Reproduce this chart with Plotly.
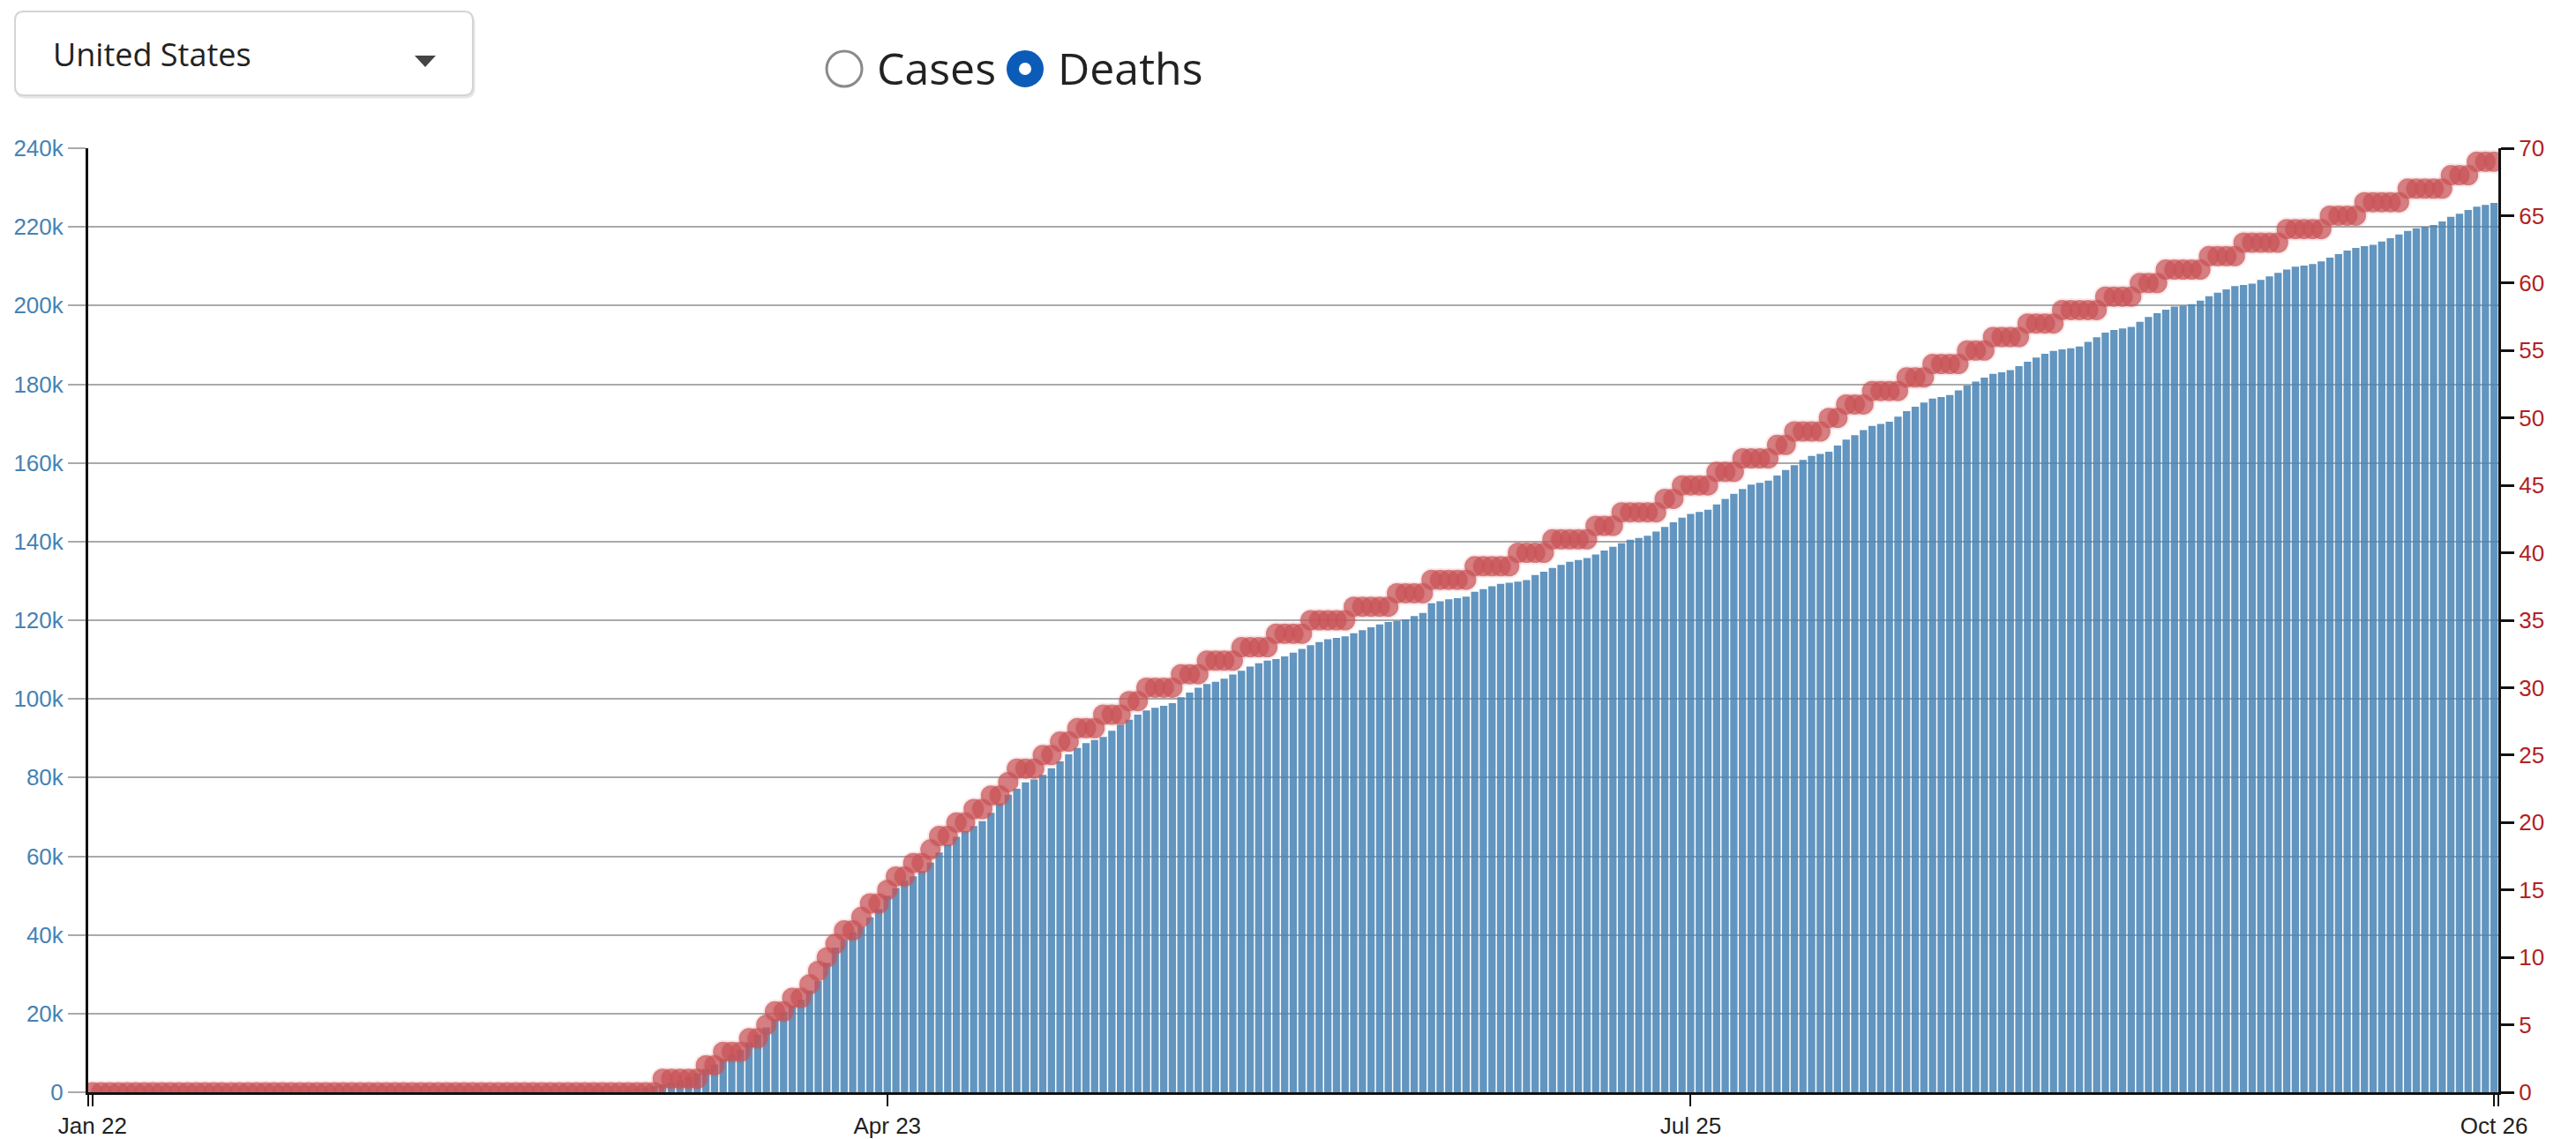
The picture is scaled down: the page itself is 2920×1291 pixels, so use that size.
import pandas as pd
import plotly.graph_objects as go

# ---------------- data ----------------
start_date = "2020-01-22"
end_date = "2020-10-26"

deaths_jan = [0, 0, 0, 0, 0, 0, 0, 0, 0, 0]
deaths_feb = [0, 0, 0, 0, 0, 0, 0, 0, 0, 0, 0, 0, 0, 0, 0, 0, 0, 0, 0, 0, 0, 0, 0, 0, 0, 0, 0, 0, 1]
deaths_mar = [1, 6, 7, 11, 12, 14, 17, 21, 22, 28, 36, 40, 47, 54, 63, 85, 108, 118, 200, 244, 307,
              427, 552, 706, 942, 1209, 1581, 2026, 2467, 2978, 3873]
deaths_apr = [4757, 5926, 7087, 8407, 9619, 10783, 12722, 14695, 16478, 18586, 20463, 22020, 23529,
              25832, 28325, 32916, 36773, 38664, 40661, 42094, 44444, 46622, 49954, 51949, 53755,
              54881, 56219, 58355, 60967, 62996]
deaths_may = [64943, 66369, 67682, 68922, 71064, 73455, 75662, 77180, 78795, 79526, 80682, 82356,
              84119, 85898, 87530, 88754, 89562, 90347, 91921, 93439, 94702, 95979, 97087, 97719,
              98223, 98916, 100418, 101617, 102836, 103781, 104383]
deaths_jun = [105147, 106195, 107175, 108211, 109042, 109751, 110119, 110826, 111754, 112734,
              113667, 114433, 115165, 115508, 115882, 116716, 117498, 118211, 118919, 119560,
              119842, 120233, 121089, 121839, 124313, 124834, 125341, 125610, 125979, 127217]
deaths_jul = [127901, 128619, 129279, 129555, 129833, 130194, 131470, 132341, 133310, 134086,
              134866, 135301, 135792, 136732, 137714, 138686, 139589, 140492, 140904, 141463,
              142536, 143726, 144879, 146078, 147048, 147513, 148085, 149431, 150859, 152112, 153363]
deaths_aug = [154458, 154926, 155487, 156812, 158198, 159442, 160739, 161772, 162302, 162850,
              164389, 165904, 167028, 168348, 169422, 169914, 170449, 171747, 173138, 174255,
              175372, 176349, 176726, 177238, 178440, 179648, 180689, 181664, 182622, 183051, 183597]
deaths_sep = [184624, 185715, 186764, 187736, 188446, 188862, 189129, 189600, 190784, 191949,
              193116, 193802, 194192, 194587, 195887, 197116, 198051, 198981, 199724, 199970,
              200346, 201248, 202358, 203249, 204140, 204946, 205246, 205577, 206503, 207448]
deaths_oct = [208326, 209154, 209860, 210184, 210546, 211218, 212168, 213107, 213996, 214628,
              215087, 215453, 216304, 217136, 218051, 218961, 219654, 220031, 220462, 221380,
              222536, 223358, 224281, 225117, 225572, 226100]

per100k_jan = [0, 0, 0, 0, 0, 0, 0, 0, 0, 0]
per100k_feb = [0, 0, 0, 0, 0, 0, 0, 0, 0, 0, 0, 0, 0, 0, 0, 0, 0, 0, 0, 0, 0, 0, 0, 0, 0, 0, 0, 0, 0]
per100k_mar = [0, 0, 0, 0, 0, 0, 0, 0, 0, 0, 0, 0, 0, 0, 0, 0, 0, 0, 0, 0, 0, 0, 0, 0, 0, 0, 0,
               1, 1, 1, 1]
per100k_apr = [1, 2, 2, 3, 3, 3, 4, 4, 5, 6, 6, 7, 7, 8, 9, 10, 11, 12, 12, 13, 14, 14, 15, 16, 16,
               17, 17, 18, 19, 19]
per100k_may = [20, 20, 21, 21, 22, 22, 23, 24, 24, 24, 25, 25, 26, 26, 27, 27, 27, 28, 28, 28, 29,
               29, 30, 30, 30, 30, 31, 31, 31, 32, 32]
per100k_jun = [32, 32, 33, 33, 33, 33, 34, 34, 34, 34, 35, 35, 35, 35, 35, 36, 36, 36, 36, 36, 37,
               37, 37, 37, 38, 38, 38, 38, 38, 39]
per100k_jul = [39, 39, 39, 39, 40, 40, 40, 40, 41, 41, 41, 41, 41, 42, 42, 42, 43, 43, 43, 43, 43,
               44, 44, 45, 45, 45, 45, 46, 46, 46, 47]
per100k_aug = [47, 47, 47, 48, 48, 49, 49, 49, 49, 50, 50, 51, 51, 51, 52, 52, 52, 52, 53, 53, 53,
               54, 54, 54, 54, 55, 55, 55, 56, 56, 56]
per100k_sep = [56, 57, 57, 57, 57, 58, 58, 58, 58, 58, 59, 59, 59, 59, 60, 60, 60, 61, 61, 61, 61,
               61, 62, 62, 62, 62, 63, 63, 63, 63]
per100k_oct = [63, 64, 64, 64, 64, 64, 65, 65, 65, 65, 66, 66, 66, 66, 66, 67, 67, 67, 67, 67, 68,
               68, 68, 69, 69, 69]

x_tick_dates = ["2020-01-22", "2020-04-23", "2020-07-25", "2020-10-26"]
x_tick_labels = ["Jan 22", "Apr 23", "Jul 25", "Oct 26"]
left_tick_vals = [0, 20000, 40000, 60000, 80000, 100000, 120000, 140000, 160000, 180000,
                  200000, 220000, 240000]
left_tick_labels = ["0", "20k", "40k", "60k", "80k", "100k", "120k", "140k", "160k", "180k",
                    "200k", "220k", "240k"]
right_tick_vals = [0, 5, 10, 15, 20, 25, 30, 35, 40, 45, 50, 55, 60, 65, 70]

country_label = "United States"
radio_labels = ["Cases", "Deaths"]

# ---------------- assemble ----------------
dates = pd.date_range(start_date, end_date, freq="D")
deaths = (deaths_jan + deaths_feb + deaths_mar + deaths_apr + deaths_may + deaths_jun +
          deaths_jul + deaths_aug + deaths_sep + deaths_oct)
per100k = (per100k_jan + per100k_feb + per100k_mar + per100k_apr + per100k_may + per100k_jun +
           per100k_jul + per100k_aug + per100k_sep + per100k_oct)

W, H = 2920, 1290
L, R, T, B = 100, 88, 168, 52
PW, PH = W - L - R, H - T - B


def px(xp):
    return (xp - L) / PW


def py(yp):
    return (H - B - yp) / PH


AXIS_FONT = "Liberation Sans, Arial, Helvetica, sans-serif"
UI_FONT = "Open Sans, Noto Sans, sans-serif"

fig = go.Figure()
fig.add_trace(go.Bar(
    x=dates, y=deaths,
    marker=dict(color="steelblue", opacity=0.85, line=dict(width=0)),
    hoverinfo="x+y", showlegend=False,
))
fig.add_trace(go.Scatter(
    x=dates, y=per100k, yaxis="y2", mode="markers",
    marker=dict(size=23, color="rgba(200,82,86,0.74)",
                line=dict(color="rgba(205,92,92,0.13)", width=4)),
    showlegend=False,
))

# outer ticks at range ends (like a d3 domain path)
x_range = [pd.Timestamp("2020-01-21 12:00"), pd.Timestamp("2020-10-26 12:00")]
tickvals = [pd.Timestamp("2020-01-21 13:00")] + [pd.Timestamp(d) for d in x_tick_dates] + \
           [pd.Timestamp("2020-10-26 11:00")]
ticktext = [""] + x_tick_labels + [""]

shapes = []


def rounded_rect(x0, y0, x1, y1, r):
    pts = [
        f"M {px(x0 + r)},{py(y0)}",
        f"L {px(x1 - r)},{py(y0)}",
        f"Q {px(x1)},{py(y0)} {px(x1)},{py(y0 + r)}",
        f"L {px(x1)},{py(y1 - r)}",
        f"Q {px(x1)},{py(y1)} {px(x1 - r)},{py(y1)}",
        f"L {px(x0 + r)},{py(y1)}",
        f"Q {px(x0)},{py(y1)} {px(x0)},{py(y1 - r)}",
        f"L {px(x0)},{py(y0 + r)}",
        f"Q {px(x0)},{py(y0)} {px(x0 + r)},{py(y0)} Z",
    ]
    return " ".join(pts)


# dropdown box
shapes.append(dict(type="path", xref="paper", yref="paper",
                   path=rounded_rect(19, 16, 537, 110, 10),
                   line=dict(color="#e6e6e6", width=3), fillcolor="white", layer="above"))
shapes.append(dict(type="path", xref="paper", yref="paper",
                   path=rounded_rect(17, 13, 536, 108, 10),
                   line=dict(color="#d4d4d4", width=2), fillcolor="white", layer="above"))
# caret
shapes.append(dict(type="path", xref="paper", yref="paper",
                   path=f"M {px(470)},{py(63)} L {px(494)},{py(63)} L {px(482)},{py(76)} Z",
                   line=dict(width=0), fillcolor="#444444", layer="above"))
# radio: Cases (unselected)
shapes.append(dict(type="circle", xref="paper", yref="paper",
                   x0=px(937), x1=px(977), y0=py(98), y1=py(58),
                   line=dict(color="#8a8a8a", width=3), fillcolor="white", layer="above"))
# radio: Deaths (selected)
shapes.append(dict(type="circle", xref="paper", yref="paper",
                   x0=px(1142), x1=px(1182), y0=py(98), y1=py(58),
                   line=dict(color="#0b5cb8", width=2), fillcolor="#0b5cb8", layer="above"))
shapes.append(dict(type="circle", xref="paper", yref="paper",
                   x0=px(1155), x1=px(1169), y0=py(85), y1=py(71),
                   line=dict(width=0), fillcolor="white", layer="above"))

annotations = [
    dict(text=country_label, xref="paper", yref="paper", x=px(58), y=py(62),
         xanchor="left", yanchor="middle", showarrow=False,
         font=dict(family=UI_FONT, size=36, color="#222222")),
    dict(text=radio_labels[0], xref="paper", yref="paper", x=px(992), y=py(77),
         xanchor="left", yanchor="middle", showarrow=False,
         font=dict(family=UI_FONT, size=50, color="#222222")),
    dict(text=radio_labels[1], xref="paper", yref="paper", x=px(1197), y=py(77),
         xanchor="left", yanchor="middle", showarrow=False,
         font=dict(family=UI_FONT, size=50, color="#222222")),
]

fig.update_layout(
    width=W, height=H,
    margin=dict(l=L, r=R, t=T, b=B, pad=0, autoexpand=False),
    paper_bgcolor="white", plot_bgcolor="white",
    bargap=0.15,
    showlegend=False,
    shapes=shapes,
    annotations=annotations,
    xaxis=dict(
        type="date", range=x_range, tickmode="array", tickvals=tickvals, ticktext=ticktext,
        ticks="outside", ticklen=13, tickwidth=2, tickcolor="#111111", automargin=False,
        showline=True, linecolor="#111111", linewidth=3, showgrid=False, zeroline=False,
        tickfont=dict(family=AXIS_FONT, size=26, color="#222222"),
    ),
    yaxis=dict(
        range=[0, 240000], tickmode="array", tickvals=left_tick_vals, ticktext=left_tick_labels,
        ticks="outside", ticklen=20, tickwidth=2, tickcolor="#aaaaaa", automargin=False,
        showgrid=True, gridcolor="#aaaaaa", gridwidth=2,
        showline=True, linecolor="#111111", linewidth=3, zeroline=False,
        tickfont=dict(family=AXIS_FONT, size=26, color="steelblue"),
    ),
    yaxis2=dict(
        range=[0, 70], overlaying="y", side="right", tickmode="array", tickvals=right_tick_vals,
        ticks="outside", ticklen=15, tickwidth=3, tickcolor="#111111", automargin=False,
        showgrid=False, zeroline=False,
        showline=True, linecolor="#111111", linewidth=3,
        tickfont=dict(family=AXIS_FONT, size=26, color="#b22222"),
    ),
)

fig.write_html("out.html", config={"displayModeBar": False},
               post_script="document.body.style.margin='0';")
